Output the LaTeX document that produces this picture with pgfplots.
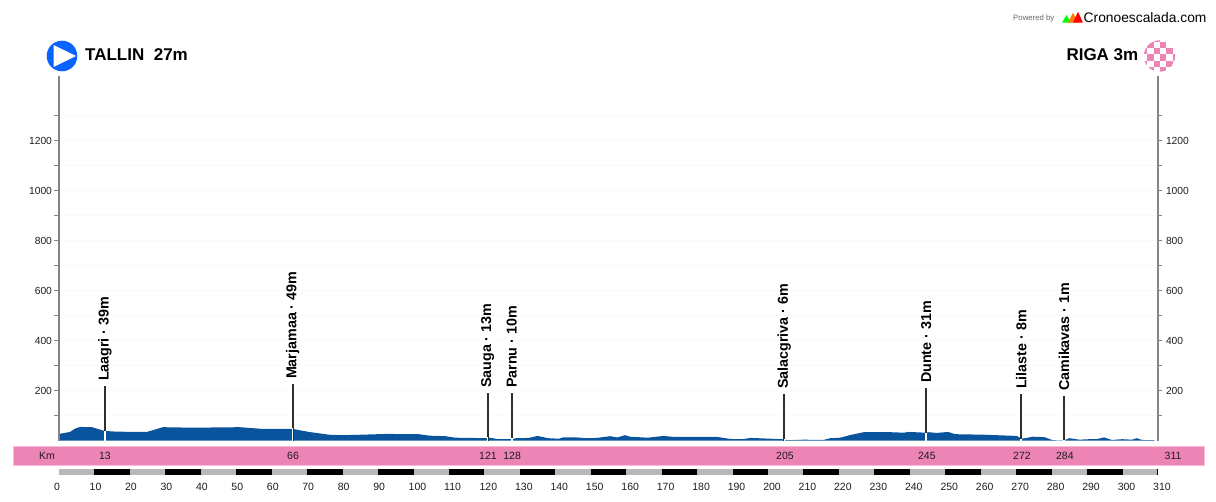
\documentclass[border=0pt]{standalone}
\usepackage{pgfplots}
\pgfplotsset{compat=1.18}
\usepackage{fontspec}
\setmainfont{Liberation Sans}
\definecolor{prof}{HTML}{0A549E}
\definecolor{pinkb}{HTML}{EC84B5}
\definecolor{pinkl}{HTML}{F6BDD8}
\definecolor{axg}{HTML}{858585}
\definecolor{gridg}{HTML}{FAFAFA}
\definecolor{mark}{HTML}{2E2E2E}
\definecolor{txt}{HTML}{1E1E1E}
\definecolor{startb}{HTML}{0A62FF}
\definecolor{logoor}{HTML}{FF7A00}
\pgfplotsset{
  elevaxis/.style={
    scale only axis, width=1099pt, height=364.7pt,
    at={(59pt,61.3pt)}, anchor=south west,
    xmin=0, xmax=310, ymin=0, ymax=1458.8,
    axis x line=none,
    axis line style={draw=none},
    ytick={200,400,...,1200},
    minor ytick={100,300,...,1300},
    tick align=outside,
    major tick length=4.5pt, minor tick length=4.5pt,
    every tick/.style={draw=axg,line width=1.1pt},
    every minor tick/.style={draw=axg,line width=1.1pt},
    tick label style={font=\fontsize{10.3}{12}\selectfont,text=txt},
    yticklabel style={/pgf/number format/1000 sep={},/pgf/number format/assume math mode=true},
  }
}
\begin{document}
\begin{tikzpicture}[x=1pt,y=1pt]
\useasboundingbox (0,0) rectangle (1216,502);
% elevation axis, left
\begin{axis}[elevaxis, axis y line*=left, ymajorgrids, yminorgrids,
  yticklabel style={xshift=1pt},
  after end axis/.code={\draw[draw=axg,line width=1.1pt] (rel axis cs:0,0) -- (rel axis cs:0,1);},
  grid style={draw=gridg,line width=0.8pt}, minor grid style={draw=gridg,line width=0.8pt}, clip=false]
\addplot[fill=prof,draw=none] coordinates {
(0,27)(3.1,35)(4.5,48)(5.9,55)(9.3,54)(12.9,39)(16.3,36)(24.8,35)(29.3,54)(37.8,52)
(51,54)(57.6,47)(65.9,47)(70.5,35)(76.2,24)(80,22)(85.4,24)(92.3,27)(101.5,26)(104.6,20)
(109,18)(111.7,12)(120.7,10)(121.5,12)(124,6)(127.5,6)(129,10)(132.4,11)(135,19)(138,10)
(141,8)(142.2,13)(146,13)(149,10)(151.6,11)(155.5,18)(157.5,13)(159.7,22)(161,16)(166,12)
(170.5,19)(173.5,15)(185.7,15)(189.3,7)(193,6)(194.9,11)(197,10)(200.5,8)(202.4,7)(204,6)
(205.4,2)(210,4)(215.6,3)(217.6,10)(220.4,12)(223,22)(227,34)(234.6,34)(238.3,32)(239.7,35)
(244.5,32)(245.3,34)(247.6,31)(250.8,35)(252.8,26)(260.7,24)(270.2,19)(271.5,8)(273,11)(274.6,16)
(278,14)(280.3,2)(283.5,1)(285,10)(287.8,4)(290.6,6)(292.6,6)(294.8,13)(297,3)(299.9,6)
(302.7,4)(304,10)(305.5,3)(309,2)
} \closedcycle;
\addplot[ycomb,draw=mark,line width=2pt,mark=none,point meta=explicit symbolic,
  nodes near coords,
  nodes near coords style={rotate=90,anchor=west,inner sep=4pt,text=black,
     font=\fontsize{14.3}{16}\bfseries\selectfont}] coordinates {
(12.95,219)[Laagri · 39m]
(65.9,227)[Marjamaa · 49m]
(120.9,191)[Sauga · 13m]
(127.7,191)[Parnu · 10m]
(204.6,187)[Salacgriva · 6m]
(244.6,211)[Dunte · 31m]
(271.4,187)[Lilaste · 8m]
(283.5,179)[Camikavas · 1m]
};
\addplot[ycomb,draw=white,line width=1.6pt,mark=none] coordinates {
(12.95,39)(65.9,49)(120.9,13)(127.7,10)(204.6,6)(244.6,31)(271.4,8)(283.5,1)
};
\end{axis}
% elevation axis, right
\begin{axis}[elevaxis, axis y line*=right,
  after end axis/.code={\draw[draw=axg,line width=1.1pt] (rel axis cs:1,0) -- (rel axis cs:1,1);}]
\addplot[draw=none,forget plot] coordinates {(0,0)(310,0)};
\end{axis}
% Km strip
\begin{axis}[scale only axis, width=1191pt, height=19.5pt,
  at={(13.5pt,36.2pt)}, anchor=south west,
  xmin=-12.83, xmax=322.85, ymin=0, ymax=1,
  xtick=\empty, ytick=\empty,
  axis line style={draw=pinkl,line width=1pt},
  axis background/.style={fill=pinkb}]
\addplot[only marks,mark=none,point meta=explicit symbolic,
  nodes near coords,
  nodes near coords style={anchor=center,inner sep=0pt,text=txt,font=\fontsize{10.5}{12}\selectfont}]
coordinates {
(-3.4,0.5)[Km](12.95,0.5)[13](65.95,0.5)[66](120.9,0.5)[121](127.7,0.5)[128]
(204.6,0.5)[205](244.6,0.5)[245](271.4,0.5)[272](283.5,0.5)[284](314,0.5)[311]
};
\end{axis}
% distance scale
\begin{axis}[scale only axis, width=1099pt, height=6pt,
  at={(59pt,26.5pt)}, anchor=south west,
  xmin=0, xmax=310, ymin=0, ymax=1,
  axis y line=none, axis x line*=bottom,
  x axis line style={draw=none},
  xtick={0,10,...,310}, major tick length=0pt,
  xticklabel style={font=\fontsize{10.5}{12}\selectfont,text=txt,anchor=north west,
     yshift=-4pt,xshift=-8.3pt,
     /pgf/number format/assume math mode=true},
  clip=false]
\addplot[draw=black!28,line width=6pt,unbounded coords=jump,line cap=butt] coordinates {
(0,0.5)(10,0.5)(20,0.5)(30,0.5)(40,nan)(40,0.5)(50,0.5)(60,nan)(60,0.5)(70,0.5)(80,nan)
(80,0.5)(90,0.5)(100,nan)(100,0.5)(110,0.5)(120,nan)(120,0.5)(130,0.5)(140,nan)(140,0.5)(150,0.5)
(160,nan)(160,0.5)(170,0.5)(180,nan)(180,0.5)(190,0.5)(200,nan)(200,0.5)(210,0.5)(220,nan)
(220,0.5)(230,0.5)(240,nan)(240,0.5)(250,0.5)(260,nan)(260,0.5)(270,0.5)(280,nan)(280,0.5)(290,0.5)
(300,nan)(300,0.5)(309.6,0.5)
};
\addplot[draw=black,line width=6pt,unbounded coords=jump,line cap=butt] coordinates {
(10,0.5)(20,0.5)(25,nan)(30,0.5)(40,0.5)(45,nan)(50,0.5)(60,0.5)(65,nan)(70,0.5)(80,0.5)(85,nan)
(90,0.5)(100,0.5)(105,nan)(110,0.5)(120,0.5)(125,nan)(130,0.5)(140,0.5)(145,nan)(150,0.5)(160,0.5)(165,nan)
(170,0.5)(180,0.5)(185,nan)(190,0.5)(200,0.5)(205,nan)(210,0.5)(220,0.5)(225,nan)(230,0.5)(240,0.5)(245,nan)
(250,0.5)(260,0.5)(265,nan)(270,0.5)(280,0.5)(285,nan)(290,0.5)(300,0.5)(305,nan)(309.6,0.5)(310,0.5)
};
\end{axis}
% header
\fill[startb] (62,446) circle (15.3);
\fill[white] (53.5,457) -- (53.5,435) -- (76,446) -- cycle;
\node[anchor=west,inner sep=0pt,text=black,font=\fontsize{17}{20}\bfseries\selectfont] at (85,447) {TALLIN\ \ 27m};
\node[anchor=east,inner sep=0pt,text=black,font=\fontsize{17}{20}\bfseries\selectfont] at (1138.5,447) {RIGA 3m};
\begin{scope}
\clip (1159.5,446) circle (15.7);
\foreach \i in {-3,...,2}{
 \foreach \j in {-3,...,2}{
  \pgfmathtruncatemacro{\p}{mod(abs(\i+\j),2)}
  \ifnum\p=1
    \fill[pinkb] ({1160+\i*6.35},{447.65+\j*6.35}) rectangle ++(6.35,6.35);
  \fi
 }}
\end{scope}
\node[anchor=west,inner sep=0pt,text=black!60,font=\fontsize{7.8}{9}\selectfont] at (1013,484) {Powered by};
\fill[green] (1062,479.3) -- (1066.5,487) -- (1071,479.3) -- cycle;
\fill[logoor] (1068,479.3) -- (1073,489.3) -- (1078,479.3) -- cycle;
\fill[red] (1073,479.3) -- (1078,490.3) -- (1083,479.3) -- cycle;
\node[anchor=west,inner sep=0pt,text=black,font=\fontsize{13.8}{16}\selectfont] at (1083.5,484) {Cronoescalada.com};
\end{tikzpicture}
\end{document}
